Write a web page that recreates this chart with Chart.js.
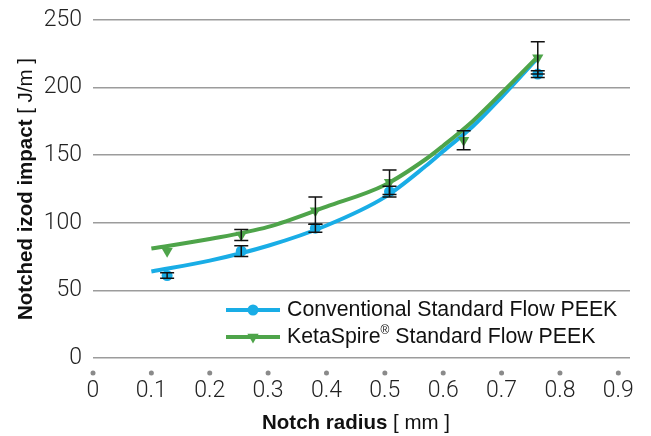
<!DOCTYPE html>
<html>
<head>
<meta charset="utf-8">
<script src="https://cdn.jsdelivr.net/npm/chart.js@4"></script>
<style>
html, body { margin: 0; padding: 0; background: #fff; }
</style>
</head>
<body>
<canvas id="chart" width="651" height="436"></canvas>
<script>
// measured points (notch radius in mm, impact in J/m)
const radius = [0.127, 0.254, 0.381, 0.508, 0.635, 0.762];
const conventional = [61, 79, 96, 123, null, 210];
const conventionalErr = [2, 4, 3, 4, null, 2.5];
const ketaspire = [79, 91, 109, 130, 161, 222];
const ketaspireErr = [0, 4, 10, 9, 7, 12];

// trend curves
const curveRadius = [0.1, 0.2, 0.3, 0.4, 0.5, 0.57, 0.6, 0.65, 0.7, 0.76];
const conventionalCurve = [64, 72, 83, 98, 119, 142, 153, 171, 193, 221];
const ketaspireCurve = [81, 88, 97, 112, 128, 147, 157, 175, 196, 222];

const xTicks = [0, 0.1, 0.2, 0.3, 0.4, 0.5, 0.6, 0.7, 0.8, 0.9];
const yTicks = [0, 50, 100, 150, 200, 250];

const BLUE = "#19ade6";
const GREEN = "#4ea44a";
const FONT = "'Liberation Sans', Arial, sans-serif";
const TICK_FONT = "Roboto, 'Liberation Sans', sans-serif";

const toPoints = (xs, ys) => xs.map((x, i) => ({ x: x, y: ys[i] }));

const extras = {
    id: "extras",
    afterDatasetsDraw(chart) {
        const ctx = chart.ctx;
        const xs = chart.scales.x, ys = chart.scales.y;
        // error bars
        const sets = [[conventional, conventionalErr], [ketaspire, ketaspireErr]];
        ctx.save();
        ctx.strokeStyle = "#111";
        ctx.lineWidth = 1.5;
        sets.forEach(([vals, errs]) => {
            vals.forEach((v, i) => {
                if (v == null || !errs[i]) return;
                const px = xs.getPixelForValue(radius[i]);
                const top = ys.getPixelForValue(v + errs[i]);
                const bot = ys.getPixelForValue(v - errs[i]);
                ctx.beginPath();
                ctx.moveTo(px, top); ctx.lineTo(px, bot);
                ctx.moveTo(px - 7, top); ctx.lineTo(px + 7, top);
                ctx.moveTo(px - 7, bot); ctx.lineTo(px + 7, bot);
                ctx.stroke();
            });
        });
        ctx.restore();
    },
    afterDraw(chart) {
        const ctx = chart.ctx;
        const xs = chart.scales.x;
        const area = chart.chartArea;
        ctx.save();
        // tick dots
        ctx.fillStyle = "#8a8a8a";
        xTicks.forEach(t => {
            ctx.beginPath();
            ctx.arc(xs.getPixelForValue(t), 373, 2.5, 0, Math.PI * 2);
            ctx.fill();
        });

        // legend
        const rows = [
            { color: BLUE, style: "circle", rot: 0, r: 5.5, parts: [["Conventional Standard Flow PEEK", 21.3, 0]] },
            { color: GREEN, style: "triangle", rot: 180, r: 6.5, parts: [["KetaSpire", 21.3, 0], ["\u00ae", 12, -6], [" Standard Flow PEEK", 21.3, 0]] }
        ];
        rows.forEach((row, i) => {
            const y = 310 + i * 27;
            ctx.strokeStyle = row.color;
            ctx.lineWidth = 4;
            ctx.beginPath();
            ctx.moveTo(226, y); ctx.lineTo(280, y);
            ctx.stroke();
            ctx.fillStyle = row.color;
            Chart.helpers.drawPoint(ctx, { pointStyle: row.style, rotation: row.rot, radius: row.r, borderWidth: 0 }, 253, y);
            ctx.fillStyle = "#111";
            ctx.textBaseline = "middle";
            let x = 287;
            row.parts.forEach(([txt, size, dy]) => {
                ctx.font = size + "px " + FONT;
                ctx.fillText(txt, x, y + dy);
                x += ctx.measureText(txt).width;
            });
        });

        // axis titles: bold name + light unit
        const drawTitle = (bold, light, cx, cy, rotate) => {
            ctx.save();
            ctx.translate(cx, cy);
            if (rotate) ctx.rotate(-Math.PI / 2);
            ctx.fillStyle = "#111";
            ctx.textBaseline = "middle";
            ctx.font = "bold 20.5px " + FONT;
            const wb = ctx.measureText(bold).width;
            ctx.font = "20.5px " + FONT;
            const wl = ctx.measureText(light).width;
            let x = -(wb + wl) / 2;
            ctx.font = "bold 20.5px " + FONT;
            ctx.fillText(bold, x, 0);
            ctx.font = "20.5px " + FONT;
            ctx.fillText(light, x + wb, 0);
            ctx.restore();
        };
        drawTitle("Notched izod impact", " [ J/m ]", 26, (area.top + area.bottom) / 2, true);
        drawTitle("Notch radius", " [ mm ]", 356, 423, false);
        ctx.restore();
    }
};

new Chart(document.getElementById("chart"), {
    type: "line",
    data: {
        datasets: [
            {
                label: "Conventional curve",
                data: toPoints(curveRadius, conventionalCurve),
                borderColor: BLUE,
                borderWidth: 4,
                pointRadius: 0,
                cubicInterpolationMode: "monotone",
                order: 4
            },
            {
                label: "KetaSpire curve",
                data: toPoints(curveRadius, ketaspireCurve),
                borderColor: GREEN,
                borderWidth: 4,
                pointRadius: 0,
                cubicInterpolationMode: "monotone",
                order: 3
            },
            {
                label: "Conventional Standard Flow PEEK",
                data: toPoints(radius, conventional),
                showLine: false,
                pointStyle: "circle",
                pointRadius: 5.5,
                pointBorderWidth: 0,
                backgroundColor: BLUE,
                order: 2
            },
            {
                label: "KetaSpire® Standard Flow PEEK",
                data: toPoints(radius, ketaspire),
                showLine: false,
                pointStyle: "triangle",
                rotation: 180,
                pointRadius: 6.5,
                pointBorderWidth: 0,
                backgroundColor: GREEN,
                order: 1
            }
        ]
    },
    options: {
        responsive: false,
        animation: false,
        layout: { padding: { top: 20, right: 21, left: 0, bottom: 0 } },
        plugins: {
            legend: { display: false },
            tooltip: { enabled: false }
        },
        scales: {
            x: {
                type: "linear",
                min: 0,
                max: 0.92,
                afterBuildTicks: s => { s.ticks = xTicks.map(v => ({ value: v })); },
                grid: { display: false, drawTicks: false },
                border: { display: false },
                ticks: {
                    padding: 19,
                    maxRotation: 0,
                    autoSkip: false,
                    color: "#222",
                    font: { family: TICK_FONT, size: 23, weight: 300 },
                    callback: v => String(v)
                },
                afterFit: s => { s.height = 78; s.paddingLeft = 0; s.paddingRight = 0; }
            },
            y: {
                min: 0,
                max: 250,
                afterBuildTicks: s => { s.ticks = yTicks.map(v => ({ value: v })); },
                grid: { color: "#9c9c9c", lineWidth: 1.5, drawTicks: false },
                border: { display: false },
                ticks: {
                    padding: 11,
                    color: "#222",
                    font: { family: TICK_FONT, size: 23, weight: 300 }
                },
                afterFit: s => { s.width = 93; s.paddingTop = 0; s.paddingBottom = 0; }
            }
        }
    },
    plugins: [extras]
});
</script>
</body>
</html>
